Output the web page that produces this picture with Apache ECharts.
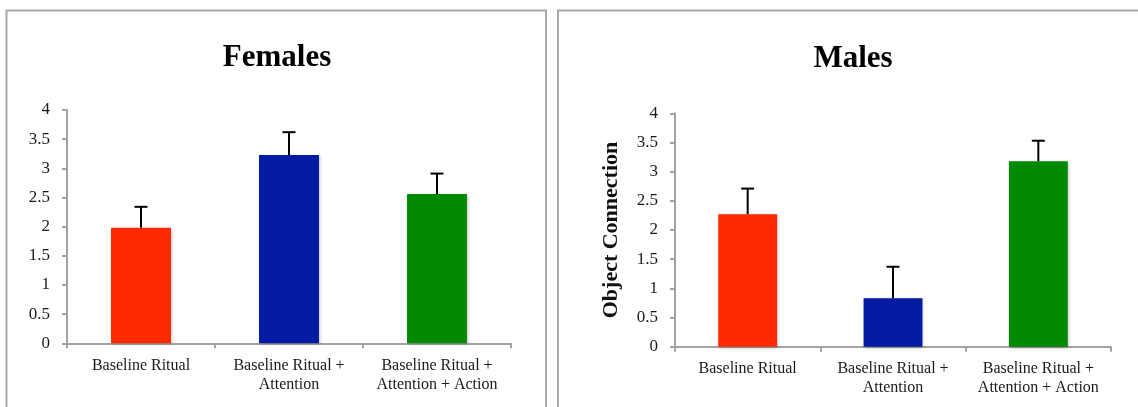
<!DOCTYPE html>
<html>
<head>
<meta charset="utf-8">
<style>
  html, body { margin: 0; padding: 0; background: #ffffff; }
  #chart { width: 1138px; height: 407px; }
</style>
<script src="https://cdn.jsdelivr.net/npm/echarts@6/dist/echarts.min.js"></script>
</head>
<body>
<div id="chart"></div>
<script>
// Condition labels shared by both panels
const categories = [
  'Baseline Ritual',
  'Baseline Ritual +\nAttention',
  'Baseline Ritual +\nAttention + Action'
];
const barColors = ['#ff2a00', '#021ba1', '#038a04'];

// Mean object-connection scores and upper error limits
const femaleMeans = [1.98, 3.23, 2.56];
const femaleUpper = [2.34, 3.62, 2.91];
const maleMeans = [2.27, 0.83, 3.18];
const maleUpper = [2.71, 1.37, 3.53];

const yTicks = { min: 0, max: 4, interval: 0.5 };

const serif = '"Liberation Serif", "Times New Roman", serif';
const axisGray = '#a3a3a3';

const chart = echarts.init(document.getElementById('chart'), null, { renderer: 'canvas' });

function xAxisFor(gridIndex) {
  return {
    type: 'category',
    gridIndex: gridIndex,
    data: categories,
    boundaryGap: true,
    axisLine: { show: true, lineStyle: { color: axisGray, width: 2 } },
    axisTick: { show: true, interval: 0, length: 5, lineStyle: { color: axisGray, width: 2 } },
    axisLabel: {
      interval: 0, margin: 13,
      fontFamily: serif, fontSize: 16, color: '#1a1a1a', lineHeight: 19
    },
    splitLine: { show: false }
  };
}

function yAxisFor(gridIndex, name) {
  return {
    type: 'value',
    gridIndex: gridIndex,
    min: yTicks.min, max: yTicks.max, interval: yTicks.interval,
    name: name,
    nameLocation: 'middle',
    nameRotate: 90,
    nameGap: 53,
    nameTextStyle: { fontFamily: serif, fontSize: 22, fontWeight: 'bold', color: '#111' },
    axisLine: { show: true, lineStyle: { color: axisGray, width: 2 } },
    axisTick: { show: true, length: 5, lineStyle: { color: axisGray, width: 2 } },
    axisLabel: { margin: 17, fontFamily: serif, fontSize: 17, color: '#1a1a1a' },
    splitLine: { show: false }
  };
}

function barSeries(idx, values) {
  return {
    type: 'bar',
    xAxisIndex: idx, yAxisIndex: idx,
    barWidth: '40.5%',
    data: values.map((v, i) => ({
      value: v,
      itemStyle: {
        color: barColors[i],
        shadowColor: 'rgba(0,0,0,0.28)', shadowBlur: 3, shadowOffsetX: 1, shadowOffsetY: 1
      }
    })),
    z: 2
  };
}

// Upward-only error bars with a short cap
function errorSeries(idx, means, upper) {
  return {
    type: 'custom',
    xAxisIndex: idx, yAxisIndex: idx,
    data: means.map((m, i) => [i, m, upper[i]]),
    renderItem: function (params, api) {
      const base = api.coord([api.value(0), api.value(1)]);
      const top = api.coord([api.value(0), api.value(2)]);
      const half = 6.5;
      const style = { stroke: '#000', lineWidth: 2 };
      return {
        type: 'group',
        children: [
          { type: 'line', shape: { x1: base[0], y1: base[1], x2: top[0], y2: top[1] }, style: style },
          { type: 'line', shape: { x1: top[0] - half, y1: top[1], x2: top[0] + half, y2: top[1] }, style: style }
        ]
      };
    },
    z: 3
  };
}

chart.setOption({
  animation: false,
  backgroundColor: '#ffffff',
  grid: [
    { left: 67, top: 110, width: 444, height: 233.3 },
    { left: 675, top: 113.3, width: 436, height: 233.4 }
  ],
  xAxis: [xAxisFor(0), xAxisFor(1)],
  yAxis: [yAxisFor(0, ''), yAxisFor(1, 'Object Connection')],
  series: [
    barSeries(0, femaleMeans),
    errorSeries(0, femaleMeans, femaleUpper),
    barSeries(1, maleMeans),
    errorSeries(1, maleMeans, maleUpper)
  ],
  graphic: [
    // panel frames
    { type: 'rect', shape: { x: 6.5, y: 10.5, width: 539.5, height: 420 },
      style: { fill: 'none', stroke: '#a8a8a8', lineWidth: 2 }, z: 0 },
    { type: 'rect', shape: { x: 558, y: 10.5, width: 600, height: 420 },
      style: { fill: 'none', stroke: '#a8a8a8', lineWidth: 2 }, z: 0 },
    // panel titles
    { type: 'text', x: 277, y: 58, style: {
        text: 'Females', fontFamily: serif, fontSize: 31, fontWeight: 'bold', fill: '#000',
        textAlign: 'center', textVerticalAlign: 'middle' } },
    { type: 'text', x: 853, y: 59, style: {
        text: 'Males', fontFamily: serif, fontSize: 31, fontWeight: 'bold', fill: '#000',
        textAlign: 'center', textVerticalAlign: 'middle' } }
  ]
});
</script>
</body>
</html>
